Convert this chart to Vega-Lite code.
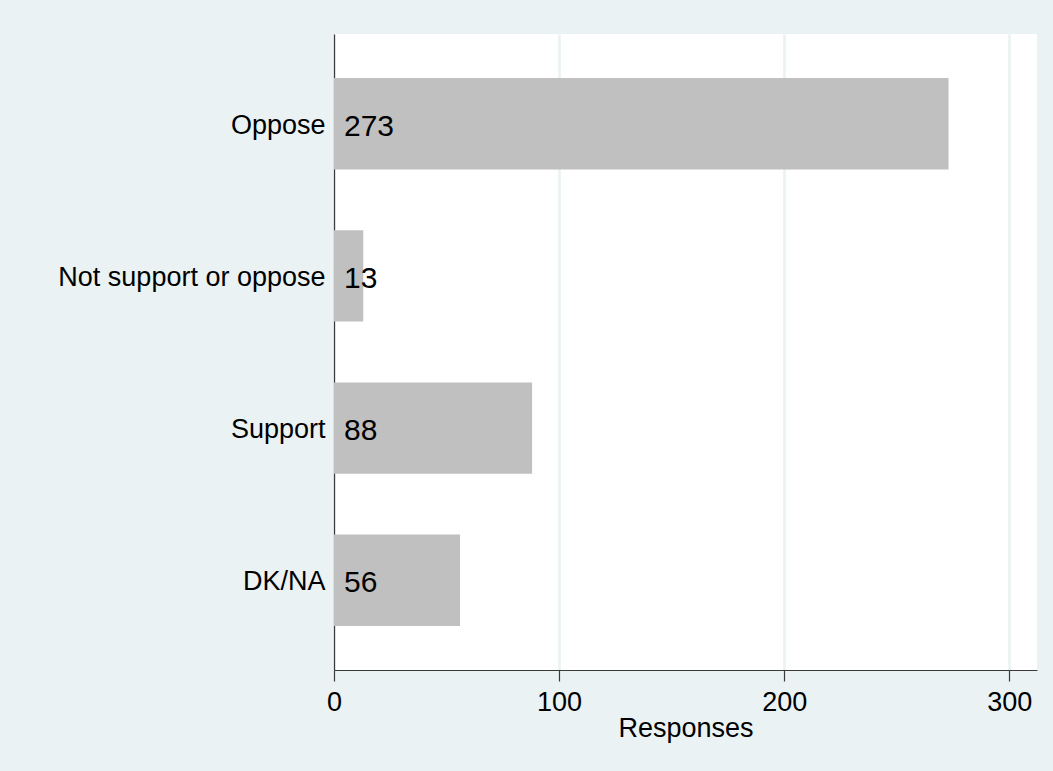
{
  "$schema": "https://vega.github.io/schema/vega-lite/v6.json",
  "autosize": "none",
  "width": 703,
  "height": 636,
  "padding": {"left": 334, "top": 34, "right": 16, "bottom": 101},
  "background": "#eaf2f3",
  "config": {
    "font": "Liberation Sans",
    "view": {"fill": "white", "stroke": null}
  },
  "data": {
    "values": [
      {"response": "Oppose", "count": 273},
      {"response": "Not support or oppose", "count": 13},
      {"response": "Support", "count": 88},
      {"response": "DK/NA", "count": 56}
    ]
  },
  "encoding": {
    "y": {
      "field": "response",
      "type": "nominal",
      "sort": null,
      "scale": {"paddingInner": 0.4, "paddingOuter": 0.29},
      "axis": {
        "title": null,
        "ticks": false,
        "labelPadding": 9,
        "labelOffset": 2,
        "labelFontSize": 27,
        "labelColor": "black",
        "labelLimit": 500,
        "domainColor": "#3a3a3a",
        "domainWidth": 1.2,
        "grid": false
      }
    }
  },
  "layer": [
    {
      "mark": {"type": "bar", "color": "#c0c0c0"},
      "encoding": {
        "x": {
          "field": "count",
          "type": "quantitative",
          "scale": {"domain": [0, 312.3], "nice": false, "zero": true},
          "axis": {
            "title": "Responses",
            "titleFontSize": 27,
            "titleFontWeight": "normal",
            "titleColor": "black",
            "titlePadding": 0,
            "values": [0, 100, 200, 300],
            "labelFontSize": 27,
            "labelColor": "black",
            "labelPadding": 8,
            "labelFlush": false,
            "tickSize": 11,
            "tickColor": "#3a3a3a",
            "tickWidth": 1.2,
            "domainColor": "#3a3a3a",
            "domainWidth": 1.2,
            "grid": true,
            "gridColor": "#eaf2f3",
            "gridWidth": 2.7
          }
        }
      }
    },
    {
      "mark": {"type": "text", "align": "left", "baseline": "middle", "dx": 10, "dy": 3, "fontSize": 30, "color": "black"},
      "encoding": {
        "x": {"datum": 0, "type": "quantitative"},
        "text": {"field": "count", "type": "quantitative"}
      }
    }
  ]
}
